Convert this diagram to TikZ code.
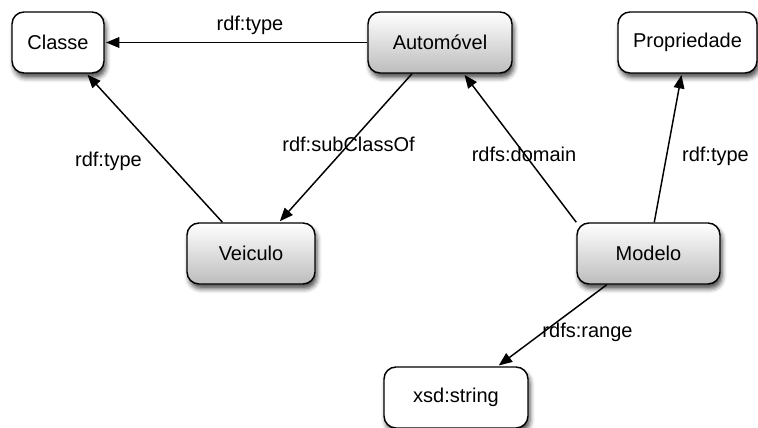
\documentclass[tikz,border=0pt]{standalone}
\usepackage{fontspec}
\setmainfont{Liberation Sans}
\usetikzlibrary{arrows.meta,shadows.blur}
\begin{document}
\begin{tikzpicture}[x=0.75pt,y=0.75pt,
  font=\fontsize{15}{18}\selectfont,
  box/.style={draw=black, line width=1.1pt, rounded corners=9pt, inner sep=0pt,
    minimum height=45.75pt, fill=white,
    blur shadow={shadow xshift=1.5pt, shadow yshift=-3.5pt,
      shadow blur radius=3.5pt, shadow opacity=70}},
  classbox/.style={box, top color=white, bottom color=black!26},
  link/.style={line width=1.1pt, -{Triangle[length=10pt,width=8pt]}, shorten >=1pt},
  lbl/.style={anchor=base, inner sep=0pt}]
\useasboundingbox (0,0) rectangle (758,-428);

% resources
\node[box, minimum width=69pt]         (classe) at (58,-42.5)    {Classe};
\node[classbox, minimum width=108pt]   (auto)   at (440,-42.5)   {Automóvel};
\node[box, minimum width=104.25pt]     (prop)   at (687.5,-42.5) {Propriedade};
\node[classbox, minimum width=96pt]    (veic)   at (251,-253.5)  {Veiculo};
\node[classbox, minimum width=107.25pt](modelo) at (648.5,-253.5){Modelo};
\node[box, minimum width=108pt]        (xsd)    at (456,-397.5)  {xsd:string};

% properties
\draw[link] (auto) -- (classe);
\draw[link] (veic) -- (classe);
\draw[link] (auto) -- (veic);
\draw[link] (modelo.north west) -- (auto);
\draw[link] (modelo) -- (prop);
\draw[link] (modelo) -- (xsd);

% property names
\node[lbl] (l1) at (250,-31)    {rdf:type};
\node[lbl] (l2) at (108.5,-166.5) {rdf:type};
\node[lbl] (l3) at (348.5,-151.5) {rdf:subClassOf};
\node[lbl] (l4) at (524,-161.5)  {rdfs:domain};
\node[lbl] (l5) at (715.5,-161.5) {rdf:type};
\node[lbl] (l6) at (587.5,-337)  {rdfs:range};
\end{tikzpicture}
\end{document}
